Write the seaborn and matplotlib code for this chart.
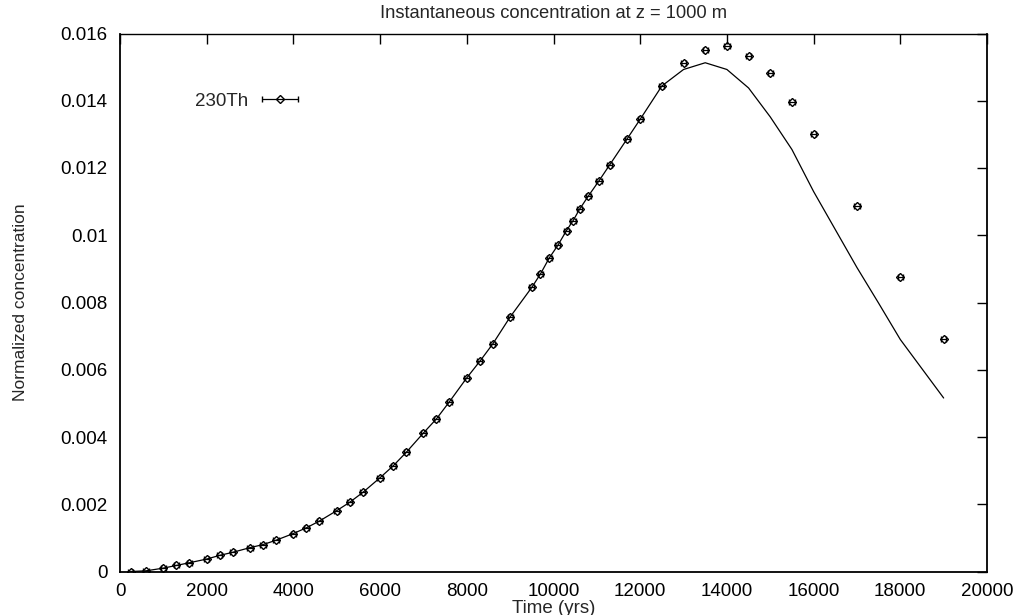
import matplotlib
matplotlib.use("Agg")
import matplotlib.pyplot as plt
import seaborn as sns
import pandas as pd
from matplotlib.legend_handler import HandlerErrorbar
from matplotlib.container import ErrorbarContainer

# ---- data ----
data_t = [250, 600, 1000, 1300, 1600, 2000, 2300, 2600, 3000, 3300, 3600, 4000,
          4300, 4600, 5000, 5300, 5600, 6000, 6300, 6600, 7000, 7300, 7600, 8000,
          8300, 8600, 9000, 9500, 9700, 9900, 10100, 10300, 10450, 10600, 10800,
          11050, 11300, 11700, 12000, 12500, 13000, 13500, 14000, 14500, 15000,
          15500, 16000, 17000, 18000, 19000]
data_c = [0.0, 0.00002, 0.0001, 0.00018, 0.00026, 0.00037, 0.00048, 0.00057,
          0.00071, 0.0008, 0.00093, 0.00113, 0.0013, 0.0015, 0.00181, 0.00206,
          0.00235, 0.00279, 0.00314, 0.00354, 0.00412, 0.00454, 0.00505, 0.00576,
          0.00625, 0.00677, 0.00757, 0.00845, 0.00885, 0.00932, 0.0097, 0.01014,
          0.01043, 0.01077, 0.01116, 0.01162, 0.0121, 0.01287, 0.01345, 0.01444,
          0.01513, 0.0155, 0.01562, 0.01533, 0.01482, 0.01397, 0.013, 0.01088,
          0.00877, 0.00692]
data_xerr = 60

model_t = [250, 600, 1000, 1300, 1600, 2000, 2300, 2600, 3000, 3300, 3600, 4000,
           4300, 4600, 5000, 5300, 5600, 6000, 6300, 6600, 7000, 7300, 7600, 8000,
           8300, 8600, 9000, 9500, 9700, 9900, 10100, 10300, 10450, 10600, 10800,
           11050, 11300, 11700, 12000, 12500, 13000, 13500, 14000, 14500, 15000,
           15500, 16000, 16500, 17000, 17500, 18000, 18500, 19000]
model_c = [0.0, 0.00002, 0.0001, 0.00018, 0.00026, 0.00037, 0.00048, 0.00057,
           0.00071, 0.0008, 0.00093, 0.00113, 0.0013, 0.0015, 0.00181, 0.00206,
           0.00235, 0.00279, 0.00314, 0.00354, 0.00412, 0.00454, 0.00505, 0.00576,
           0.00625, 0.00677, 0.00757, 0.00845, 0.00885, 0.00932, 0.0097, 0.01014,
           0.01043, 0.01077, 0.01116, 0.01162, 0.0121, 0.01287, 0.01345, 0.01444,
           0.01493, 0.01513, 0.01493, 0.01438, 0.01352, 0.01255, 0.0113, 0.01017,
           0.00904, 0.00798, 0.0069, 0.00603, 0.00516]

x_ticks = [0, 2000, 4000, 6000, 8000, 10000, 12000, 14000, 16000, 18000, 20000]
y_ticks = [0, 0.002, 0.004, 0.006, 0.008, 0.01, 0.012, 0.014, 0.016]
y_ticklabels = ["0", "0.002", "0.004", "0.006", "0.008", "0.01", "0.012", "0.014", "0.016"]

title = "Instantaneous concentration at z = 1000 m"
xlabel = "Time (yrs)"
ylabel = "Normalized concentration"
series_label = "230Th"

# ---- style ----
sns.set_style("white")
plt.rcParams["font.family"] = ["Liberation Sans", "DejaVu Sans"]
FS = 13.5
plt.rcParams["font.size"] = FS

fig = plt.figure(figsize=(10.18, 6.15), dpi=100)
ax = fig.add_axes([120 / 1018, 1 - 571.5 / 615, 867 / 1018, 538 / 615])

model_df = pd.DataFrame({"t": model_t, "c": model_c})
sns.lineplot(data=model_df, x="t", y="c", ax=ax, color="black", linewidth=0.9,
             legend=False)

eb = ax.errorbar(data_t, data_c, xerr=data_xerr, fmt="D", ms=4.5, mfc="none",
                 mec="black", mew=1.0, ecolor="black", elinewidth=0.9,
                 capsize=2.0, capthick=0.9, label=series_label, zorder=3)

ax.set_xlim(0, 20000)
ax.set_ylim(0, 0.016)
ax.set_xticks(x_ticks)
ax.set_xticklabels([str(v) for v in x_ticks])
ax.set_yticks(y_ticks)
ax.set_yticklabels(y_ticklabels)

ax.tick_params(direction="in", length=7, width=1, top=True, right=True,
               labelsize=FS, colors="black")
ax.tick_params(axis="x", pad=8)
ax.tick_params(axis="y", pad=9)

for s in ax.spines.values():
    s.set_visible(True)
    s.set_color("black")
    s.set_linewidth(1.3)
ax.spines["top"].set_linewidth(1.0)

ax.set_title(title, fontsize=13.2, pad=11.5)
ax.set_xlabel(xlabel, fontsize=FS, labelpad=0)
ax.set_ylabel(ylabel, fontsize=12.5, labelpad=23)

ax.legend(handles=[eb], loc="center right",
          bbox_to_anchor=((298 - 120) / 867, (571.5 - 101) / 538),
          frameon=False, markerfirst=False, borderpad=0, borderaxespad=0,
          handlelength=1.9, handletextpad=0.75, fontsize=FS,
          handler_map={ErrorbarContainer: HandlerErrorbar(xerr_size=0.95)})

fig.savefig("out.png", dpi=100)
